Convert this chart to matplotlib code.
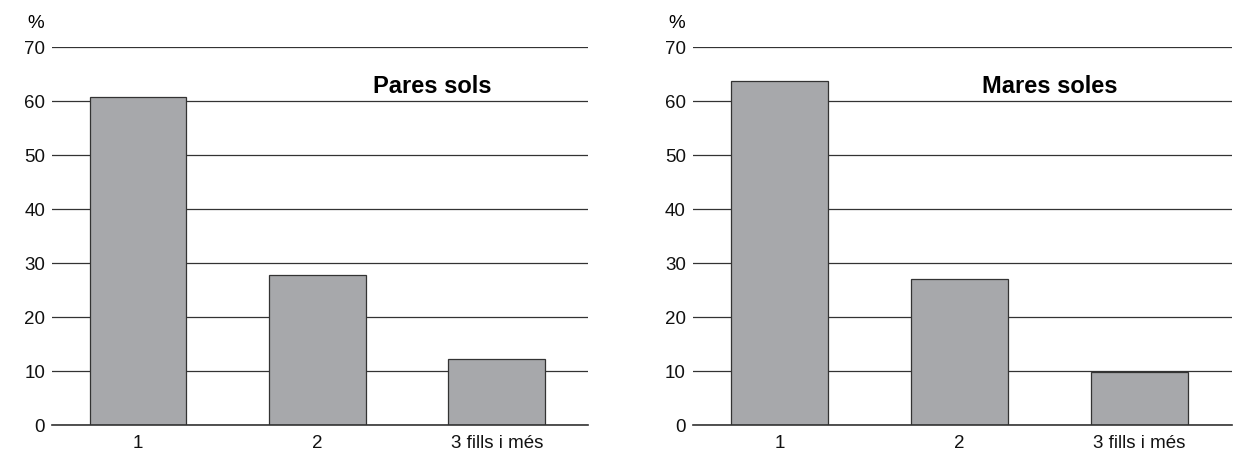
import matplotlib.pyplot as plt

plt.rcParams['font.family'] = ['Liberation Sans', 'DejaVu Sans']

categories = ['1', '2', '3 fills i més']
pares_sols = [60.7, 27.7, 12.2]
mares_soles = [63.8, 27.0, 9.9]
yticks = [0, 10, 20, 30, 40, 50, 60, 70]

fig = plt.figure(figsize=(12.44, 4.57), dpi=100)
ax1 = fig.add_axes([0.0418, 0.070, 0.431, 0.827])
ax2 = fig.add_axes([0.557, 0.070, 0.433, 0.827])

panels = [(ax1, pares_sols, 'Pares sols', 0.71), (ax2, mares_soles, 'Mares soles', 0.662)]

for ax, vals, title, tx in panels:
    x = range(len(categories))
    ax.set_axisbelow(True)
    ax.yaxis.grid(True, color='#333333', linewidth=0.9)
    ax.bar(x, vals, width=0.54, color='#a7a8ab', edgecolor='#333333', linewidth=0.9, zorder=2)
    ax.axhline(0, color='#333333', linewidth=1.2, zorder=3, clip_on=False)
    ax.set_xlim(-0.48, 2.51)
    ax.set_ylim(0, 70)
    ax.set_yticks(yticks)
    ax.set_xticks(list(x))
    ax.set_xticklabels(categories)
    for s in ['top', 'right', 'left', 'bottom']:
        ax.spines[s].set_visible(False)
    ax.tick_params(axis='both', length=0, labelsize=13.5, colors='#111111')
    ax.tick_params(axis='y', pad=5)
    ax.tick_params(axis='x', pad=7)
    ax.text(tx, 0.895, title, transform=ax.transAxes, ha='center', va='center',
            fontsize=17, fontweight='bold')
    ax.text(-0.03, 1.04, '%', transform=ax.transAxes, ha='center', va='bottom', fontsize=13.5)

fig.savefig('out.png', dpi=100)
